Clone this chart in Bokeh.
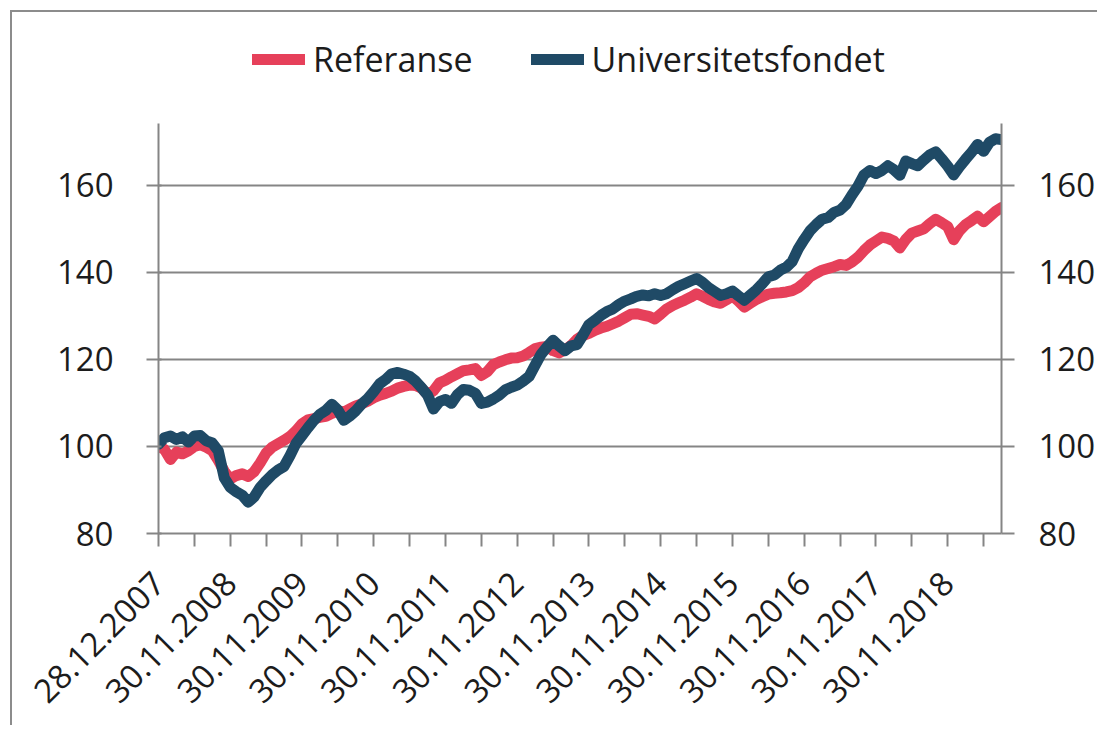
import math
from bokeh.plotting import figure
from bokeh.models import Range1d, LinearAxis, FixedTicker, Legend, LegendItem
from bokeh.embed import file_html
from bokeh.resources import INLINE

# ---- data (monthly index values) ----
referanse = [
    100.0, 99.3, 97.0, 98.7, 98.3, 99.0, 100.0, 100.4, 99.8, 99.0,
    96.8, 94.3, 92.5, 93.3, 93.7, 93.1, 94.2, 96.2, 98.5, 99.8,
    100.6, 101.4, 102.3, 103.6, 105.2, 106.1, 106.4, 106.7, 106.9, 107.6,
    108.2, 107.9, 108.6, 109.3, 109.8, 110.4, 111.2, 111.8, 112.2, 112.7,
    113.4, 113.8, 114.1, 114.0, 113.4, 111.9, 112.8, 114.6, 115.2, 116.0,
    116.7, 117.4, 117.6, 117.9, 116.3, 117.2, 118.8, 119.4, 119.9, 120.3,
    120.4, 120.8, 121.6, 122.5, 122.8, 123.0, 122.0, 121.5, 122.2, 123.2,
    124.6, 125.5, 126.0, 126.7, 127.2, 127.6, 128.2, 128.8, 129.6, 130.4,
    130.5, 130.2, 129.9, 129.3, 130.4, 131.6, 132.4, 133.0, 133.6, 134.3,
    135.1, 134.5, 133.8, 133.2, 132.9, 133.7, 134.6, 133.4, 132.0, 132.9,
    133.8, 134.4, 135.0, 135.2, 135.3, 135.5, 135.8, 136.5, 137.6, 139.0,
    139.8, 140.5, 140.9, 141.3, 141.8, 141.6, 142.4, 143.5, 145.0, 146.3,
    147.2, 148.1, 147.8, 147.2, 145.6, 147.6, 149.0, 149.5, 150.0, 151.2,
    152.2, 151.4, 150.5, 147.5, 149.6, 151.0, 151.9, 152.9, 151.6, 152.8,
    154.0, 154.9,
]
universitetsfondet = [
    100.5, 102.0, 102.4, 101.6, 102.2, 101.0, 102.4, 102.5, 101.3, 100.8,
    99.0, 92.8, 90.6, 89.6, 88.8, 87.2, 88.4, 90.6, 92.1, 93.5,
    94.6, 95.4, 97.9, 100.7, 102.5, 104.3, 106.0, 107.4, 108.3, 109.7,
    108.4, 106.0, 107.0, 108.2, 109.8, 111.0, 112.6, 114.4, 115.4, 116.7,
    117.0, 116.6, 116.1, 115.0, 113.5, 111.8, 108.6, 110.3, 110.8, 109.9,
    111.9, 113.1, 112.9, 112.2, 109.9, 110.2, 110.9, 111.8, 113.0, 113.6,
    114.1, 115.0, 116.1, 118.7, 121.2, 122.9, 124.4, 123.1, 122.0, 123.1,
    123.4, 125.6, 128.0, 129.0, 130.1, 131.0, 131.6, 132.6, 133.4, 133.9,
    134.5, 134.8, 134.6, 135.1, 134.7, 135.1, 136.0, 136.8, 137.4, 138.0,
    138.6, 137.7, 136.5, 135.6, 134.7, 135.1, 135.7, 134.6, 133.6, 134.8,
    136.0, 137.4, 139.0, 139.4, 140.5, 141.2, 142.5, 145.4, 147.6, 149.6,
    151.0, 152.2, 152.6, 153.8, 154.3, 155.6, 157.8, 159.8, 162.4, 163.4,
    162.7, 163.4, 164.5, 163.6, 162.3, 165.6, 165.0, 164.5, 165.8, 167.0,
    167.7, 166.1, 164.4, 162.4, 164.3, 166.0, 167.6, 169.4, 167.8, 169.9,
    170.7, 170.5,
]
date_labels = [
    "28.12.2007", "30.11.2008", "30.11.2009", "30.11.2010", "30.11.2011",
    "30.11.2012", "30.11.2013", "30.11.2014", "30.11.2015", "30.11.2016",
    "30.11.2017", "30.11.2018",
]
y_ticks = [80, 100, 120, 140, 160]
y_axis_bounds = (80, 174.2)
series_names = ["Referanse", "Universitetsfondet"]

months = list(range(len(referanse)))

RED = "#e6405a"
BLUE = "#1f4a66"
GRID = "#858585"
TEXT = "#1c1c1c"
FONT = "Open Sans"
FS_AXIS = "33px"
FS_LEGEND = "34px"

# frame: 503 px tall; the value axis (80..174.2) takes its lower 410 px,
# the band above holds the legend
p = figure(
    width=1087, height=715,
    x_range=Range1d(0, len(months) - 1), y_range=Range1d(80, 195.57),
    output_backend="svg", toolbar_location=None,
    min_border_left=146, min_border_right=98,
    min_border_top=18, min_border_bottom=194,
)
p.styles = {
    "margin-left": "10px", "margin-top": "10px",
    "border-left": "2px solid #8c8c8c", "border-top": "2px solid #8c8c8c",
}
p.outline_line_color = None
p.background_fill_color = "white"
p.border_fill_color = "white"

r_red = p.line(months, referanse, line_width=11, line_color=RED,
               line_cap="round", line_join="round")
r_blue = p.line(months, universitetsfondet, line_width=11, line_color=BLUE,
                line_cap="round", line_join="round")

# x axis
x_ticks = list(range(0, len(months), 6))
p.xaxis.ticker = FixedTicker(ticks=x_ticks)
overrides = {}
for t in x_ticks:
    overrides[t] = date_labels[t // 12] if (t % 12 == 0 and t // 12 < len(date_labels)) else ""
p.xaxis.major_label_overrides = overrides
p.xaxis.major_label_orientation = math.pi / 4
p.xaxis.major_tick_out = 13
p.xaxis.major_tick_in = 0
p.xaxis.minor_tick_line_color = None
p.xaxis.major_label_standoff = 31

# left y axis
p.yaxis.ticker = FixedTicker(ticks=y_ticks)
p.yaxis.bounds = y_axis_bounds
p.yaxis.major_tick_out = 12
p.yaxis.major_tick_in = 3
p.yaxis.minor_tick_line_color = None
p.yaxis.major_label_standoff = 33

# right y axis
right = LinearAxis(ticker=FixedTicker(ticks=y_ticks), bounds=y_axis_bounds)
right.major_tick_out = 13
right.major_tick_in = 0
right.minor_tick_line_color = None
right.major_label_standoff = 24
p.add_layout(right, "right")

for ax in [p.xaxis[0], p.yaxis[0], right]:
    ax.axis_line_color = GRID
    ax.axis_line_width = 2
    ax.major_tick_line_color = GRID
    ax.major_tick_line_width = 2
    ax.major_label_text_font = FONT
    ax.major_label_text_font_size = FS_AXIS
    ax.major_label_text_color = TEXT

p.xgrid.visible = False
p.ygrid.ticker = FixedTicker(ticks=y_ticks)
p.ygrid.grid_line_color = GRID
p.ygrid.grid_line_width = 2

legend = Legend(
    items=[LegendItem(label=series_names[0], renderers=[r_red]),
           LegendItem(label=series_names[1], renderers=[r_blue])],
    orientation="horizontal", location=(94, 451),
    glyph_width=53, glyph_height=40, label_standoff=8, spacing=58,
    padding=0, margin=0,
    label_text_font=FONT, label_text_font_size=FS_LEGEND, label_text_color=TEXT,
    border_line_color=None, background_fill_alpha=0,
)
p.add_layout(legend, "center")

open("out.html", "w").write(file_html(p, INLINE))
